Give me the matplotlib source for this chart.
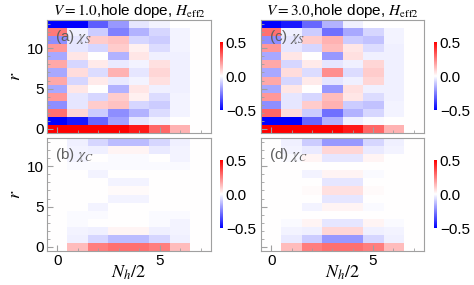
import numpy as np
import matplotlib
matplotlib.use("Agg")
import matplotlib.pyplot as plt
from matplotlib.ticker import MultipleLocator

plt.rcParams['font.family'] = ['Liberation Sans', 'DejaVu Sans']
plt.rcParams['mathtext.fontset'] = 'stix'

# rows are r = 0..13, columns are N_h/2 = 0..7
chi_s_v1 = [
    [0.50, 0.50, 0.50, 0.50, 0.45, 0.30, 0.15, 0.00],
    [-0.50, -0.45, -0.30, -0.18, -0.05, -0.02, 0.00, 0.00],
    [0.28, 0.08, -0.10, -0.22, -0.15, -0.07, -0.02, 0.00],
    [-0.22, -0.05, 0.10, 0.12, -0.08, -0.10, -0.02, 0.00],
    [0.20, -0.05, -0.08, 0.10, 0.03, -0.07, -0.02, 0.00],
    [-0.17, 0.05, 0.00, -0.15, 0.05, -0.03, -0.03, 0.00],
    [0.17, -0.08, 0.04, -0.04, -0.02, 0.06, -0.03, 0.00],
    [-0.17, 0.07, -0.07, 0.15, -0.05, 0.08, -0.03, 0.00],
    [0.17, -0.08, 0.04, -0.04, -0.02, 0.06, -0.03, 0.00],
    [-0.17, 0.05, 0.00, -0.15, 0.05, -0.03, -0.03, 0.00],
    [0.20, -0.05, -0.08, 0.10, 0.03, -0.07, -0.02, 0.00],
    [-0.22, -0.05, 0.10, 0.12, -0.08, -0.10, -0.02, 0.00],
    [0.26, -0.03, -0.10, -0.25, -0.15, -0.08, -0.02, 0.00],
    [-0.50, -0.50, -0.32, -0.20, -0.05, -0.02, 0.00, 0.00],
]

chi_c_v1 = [
    [0.00, 0.13, 0.25, 0.28, 0.28, 0.25, 0.13, 0.00],
    [0.00, -0.03, -0.08, -0.13, -0.13, -0.08, -0.03, 0.00],
    [0.00, -0.02, -0.03, 0.02, 0.02, -0.03, -0.02, 0.00],
    [0.00, -0.01, 0.00, 0.00, 0.00, -0.01, -0.02, 0.00],
    [0.00, -0.01, -0.01, 0.00, 0.00, -0.01, -0.01, 0.00],
    [0.00, 0.00, -0.02, 0.00, 0.00, 0.00, 0.00, 0.00],
    [0.00, 0.00, 0.00, -0.02, -0.02, 0.00, 0.00, 0.00],
    [0.00, 0.00, 0.00, 0.01, 0.01, 0.00, 0.00, 0.00],
    [0.00, 0.00, 0.00, -0.02, -0.02, 0.00, 0.00, 0.00],
    [0.00, 0.00, -0.02, 0.00, 0.00, 0.00, 0.00, 0.00],
    [0.00, -0.01, -0.01, -0.01, -0.01, -0.01, -0.01, 0.00],
    [0.00, -0.02, 0.00, -0.01, -0.01, 0.00, -0.02, 0.00],
    [0.00, -0.02, -0.03, 0.02, 0.02, -0.04, -0.02, 0.00],
    [0.00, -0.03, -0.08, -0.13, -0.13, -0.08, -0.03, 0.00],
]

chi_s_v3 = [
    [0.50, 0.50, 0.50, 0.50, 0.45, 0.30, 0.15, 0.00],
    [-0.50, -0.50, -0.30, -0.15, -0.03, -0.01, 0.00, 0.00],
    [0.30, 0.07, -0.10, -0.28, -0.15, -0.08, -0.02, 0.00],
    [-0.22, -0.05, 0.10, 0.15, -0.10, -0.12, -0.02, 0.00],
    [0.20, -0.05, -0.08, 0.13, 0.05, -0.07, -0.03, 0.00],
    [-0.17, 0.05, 0.00, -0.20, 0.06, -0.03, -0.03, 0.00],
    [0.17, -0.08, 0.04, -0.05, -0.03, 0.08, -0.03, 0.00],
    [-0.17, 0.07, -0.07, 0.22, -0.07, 0.10, -0.03, 0.00],
    [0.17, -0.08, 0.04, -0.05, -0.03, 0.08, -0.03, 0.00],
    [-0.17, 0.05, 0.00, -0.20, 0.06, -0.03, -0.03, 0.00],
    [0.20, -0.05, -0.08, 0.13, 0.05, -0.07, -0.03, 0.00],
    [-0.22, -0.05, 0.10, 0.15, -0.10, -0.12, -0.02, 0.00],
    [0.28, -0.03, -0.10, -0.28, -0.17, -0.08, -0.02, 0.00],
    [-0.50, -0.45, -0.30, -0.15, -0.03, 0.00, 0.00, 0.00],
]

chi_c_v3 = [
    [0.00, 0.13, 0.25, 0.28, 0.28, 0.25, 0.13, 0.00],
    [0.00, -0.04, -0.10, -0.20, -0.20, -0.08, -0.03, 0.00],
    [0.00, -0.02, -0.03, 0.08, 0.08, -0.03, -0.02, 0.00],
    [0.00, -0.01, 0.02, -0.05, -0.05, 0.02, -0.01, 0.00],
    [0.00, 0.00, 0.00, 0.00, 0.00, 0.00, 0.00, 0.00],
    [0.00, 0.00, -0.02, 0.02, 0.02, -0.01, 0.00, 0.00],
    [0.00, 0.00, 0.00, -0.05, -0.05, 0.00, 0.00, 0.00],
    [0.00, 0.00, 0.01, 0.06, 0.06, 0.01, 0.00, 0.00],
    [0.00, 0.00, 0.00, -0.05, -0.05, 0.00, 0.00, 0.00],
    [0.00, 0.00, -0.02, 0.02, 0.02, -0.01, 0.00, 0.00],
    [0.00, 0.00, 0.00, 0.00, 0.00, 0.00, 0.00, 0.00],
    [0.00, -0.01, 0.02, -0.05, -0.05, 0.02, 0.00, 0.00],
    [0.00, -0.02, -0.04, 0.08, 0.08, -0.04, -0.02, 0.00],
    [0.00, -0.03, -0.10, -0.20, -0.20, -0.08, -0.03, 0.00],
]

titles = [r"$V=1.0$,hole dope, $H_{\rm eff2}$", r"$V=3.0$,hole dope, $H_{\rm eff2}$"]
labels = [r"(a) $\chi_S$", r"(b) $\chi_C$", r"(c) $\chi_S$", r"(d) $\chi_C$"]

W, H = 474, 285
fig = plt.figure(figsize=(W / 100, H / 100), dpi=100)

def px(x0, y0, x1, y1):
    return [x0 / W, 1 - y1 / H, (x1 - x0) / W, (y1 - y0) / H]

panels = [
    (chi_s_v1, px(47, 20, 211, 133), px(220, 42, 223, 110)),
    (chi_c_v1, px(47, 138, 211, 251), px(220, 160, 223, 228)),
    (chi_s_v3, px(261, 20, 424, 133), px(434, 42, 437, 110)),
    (chi_c_v3, px(261, 138, 424, 251), px(434, 160, 437, 228)),
]

frame = '#a0a0a0'
for i, (data, rect, cbrect) in enumerate(panels):
    ax = fig.add_axes(rect)
    im = ax.imshow(np.array(data), cmap='bwr', vmin=-0.5, vmax=0.5,
                   origin='lower', aspect='auto', interpolation='nearest',
                   extent=(-0.5, 7.5, -0.5, 13.5))
    for s in ax.spines.values():
        s.set_color(frame)
    ax.xaxis.set_major_locator(MultipleLocator(5))
    ax.xaxis.set_minor_locator(MultipleLocator(1))
    ax.yaxis.set_major_locator(MultipleLocator(5))
    ax.yaxis.set_minor_locator(MultipleLocator(1))
    ax.tick_params(which='both', direction='in', color=frame, labelsize=11,
                   top=False, right=False)
    ax.tick_params(which='major', length=4, pad=2)
    ax.tick_params(which='minor', length=2)
    ax.text(0.05, 0.93, labels[i], transform=ax.transAxes, color='#606060',
            fontsize=11, va='top', ha='left')
    if i % 2 == 0:
        ax.set_title(titles[i // 2], fontsize=11, pad=3)
        ax.tick_params(labelbottom=False)
    else:
        ax.set_xlabel(r"$N_h/2$", fontsize=13, labelpad=-3)
    if i < 2:
        ax.set_ylabel(r"$r$", fontsize=13, labelpad=2)
    else:
        ax.tick_params(labelleft=False)

    cax = fig.add_axes(cbrect)
    cb = fig.colorbar(im, cax=cax, ticks=[-0.5, 0.0, 0.5])
    cb.outline.set_visible(False)
    cb.ax.tick_params(length=0, labelsize=11, pad=2)
    cb.ax.set_yticklabels(['\u22120.5', '0.0', '0.5'])

fig.savefig('out.png', dpi=100)
